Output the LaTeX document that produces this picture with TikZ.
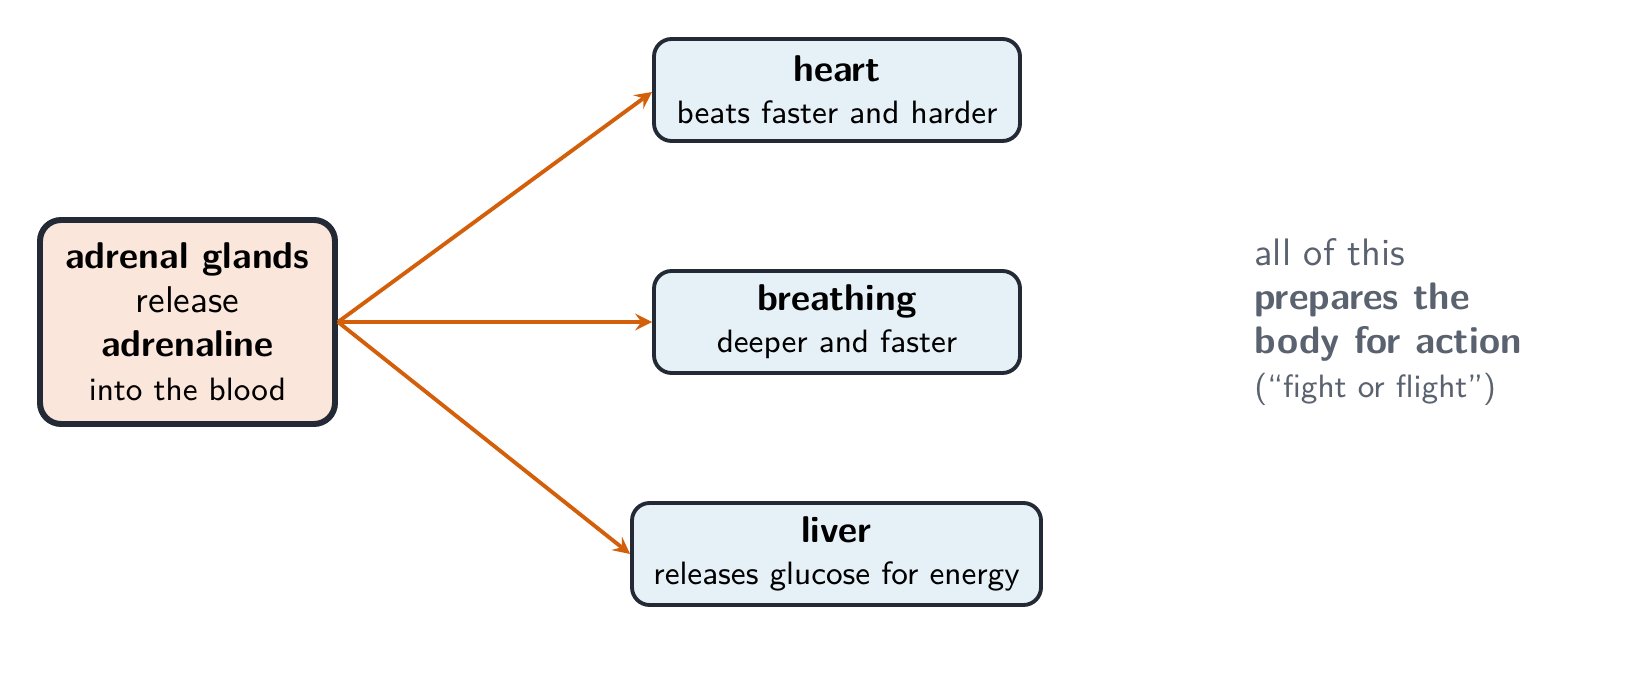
\documentclass[tikz,border=0pt]{standalone}
\usetikzlibrary{positioning}
\definecolor{edge}{HTML}{232A36}
\definecolor{warm}{HTML}{FAE6DA}
\definecolor{cool}{HTML}{E6F0F7}
\definecolor{arr}{HTML}{D45F0A}
\definecolor{note}{HTML}{5A6270}
\newcommand{\ttl}{\fontsize{10.6}{13}\selectfont\bfseries}
\newcommand{\sml}{\fontsize{9.2}{11}\selectfont}
\tikzset{
 organ/.style={draw=edge,fill=cool,line width=1.1pt,rounded corners=5pt,
   minimum height=1.02cm,align=center,font=\sffamily\sml,inner sep=2pt},
 gland/.style={draw=edge,fill=warm,line width=1.7pt,rounded corners=6pt,
   minimum width=2.95cm,minimum height=2.04cm,align=center,
   font=\sffamily\fontsize{10.6}{12.5}\selectfont},
 flow/.style={draw=arr,line width=1.1pt,-stealth}
}
\begin{document}
\begin{tikzpicture}
\useasboundingbox (0,0) rectangle (16.43,-6.79);

\node[gland] (glands) at (1.875,-3.22)
 {\textbf{adrenal glands}\\release\\\textbf{adrenaline}\\{\sml into the blood}};

\node[organ,minimum width=3.66cm] (heart) at (8.37,-0.90)
 {{\ttl heart}\\[1pt]beats faster and harder};
\node[organ,minimum width=3.66cm] (breath) at (8.37,-3.22)
 {{\ttl breathing}\\[1pt]deeper and faster};
\node[organ,minimum width=4.09cm] (liver) at (8.365,-5.54)
 {{\ttl liver}\\[1pt]releases glucose for energy};

\coordinate (src) at (glands.east);
\coordinate (heartin) at (6.52,-0.92);
\draw[flow] (src) -- (heartin);
\draw[flow] (src) -- (breath.west);
\draw[flow] (src) -- (liver.west);

\node[anchor=west,align=left,text=note,
  font=\sffamily\fontsize{10.9}{12.5}\selectfont] (summary) at (12.42,-3.22)
 {all of this\\\textbf{prepares the}\\\textbf{body for action}\\{\sml(``fight or flight'')}};
\end{tikzpicture}
\end{document}
